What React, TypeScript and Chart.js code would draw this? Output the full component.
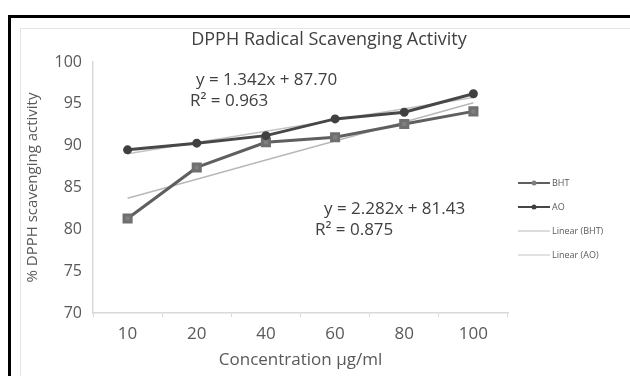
import React, { useEffect, useRef } from "react";
import { Chart, registerables } from "chart.js";

Chart.register(...registerables);

const categories = ["10", "20", "40", "60", "80", "100"];
const bhtValues = [81.3, 87.4, 90.4, 91.0, 92.6, 94.1];
const aoValues = [89.5, 90.3, 91.2, 93.2, 94.0, 96.2];
// trendline values read from the printed equations
const linearBht = [83.71, 85.99, 88.28, 90.56, 92.84, 95.12];
const linearAo = [89.04, 90.38, 91.73, 93.07, 94.41, 95.75];
const yTicks = [70, 75, 80, 85, 90, 95, 100];

const FONT = "'Open Sans', 'Liberation Sans', sans-serif";

const framePlugin = {
  id: "frame",
  beforeDraw(chart: any) {
    const { ctx, width, height } = chart;
    ctx.save();
    ctx.fillStyle = "#ffffff";
    ctx.fillRect(0, 0, width, height);
    ctx.strokeStyle = "#e4e4e4";
    ctx.lineWidth = 1;
    ctx.strokeRect(20.5, 28.5, width, height);
    ctx.strokeStyle = "#000000";
    ctx.lineWidth = 3;
    ctx.strokeRect(9.5, 16.5, width + 20, height + 20);
    ctx.restore();
  },
  afterDraw(chart: any) {
    const { ctx } = chart;
    ctx.save();
    ctx.fillStyle = "#404040";
    ctx.textBaseline = "middle";
    ctx.textAlign = "center";
    ctx.font = `18px ${FONT}`;
    ctx.fillText("DPPH Radical Scavenging Activity", 329, 40);

    ctx.textAlign = "left";
    ctx.font = `17px ${FONT}`;
    ctx.fillText("y = 1.342x + 87.70", 196, 80);
    ctx.fillText("R² = 0.963", 190, 101);
    ctx.fillText("y = 2.282x + 81.43", 324, 209);
    ctx.fillText("R² = 0.875", 315, 230);

    // legend
    const items = chart.data.datasets;
    const startY = 183;
    const gap = 24;
    ctx.font = `9px ${FONT}`;
    items.forEach((ds: any, i: number) => {
      const y = startY + i * gap;
      ctx.strokeStyle = ds.borderColor;
      ctx.lineWidth = Math.max(1, ds.borderWidth - 1);
      ctx.beginPath();
      ctx.moveTo(518, y);
      ctx.lineTo(550, y);
      ctx.stroke();
      if (ds.pointRadius > 0) {
        ctx.fillStyle = ds.pointBackgroundColor;
        ctx.beginPath();
        ctx.arc(534, y, 2.5, 0, Math.PI * 2);
        ctx.fill();
      }
      ctx.fillStyle = "#595959";
      ctx.fillText(ds.label, 552, y);
    });
    ctx.restore();
  },
};

export default function App() {
  const ref = useRef<HTMLCanvasElement>(null);
  useEffect(() => {
    if (!ref.current) return;
    const chart = new Chart(ref.current, {
      type: "line",
      data: {
        labels: categories,
        datasets: [
          {
            label: "BHT",
            data: bhtValues,
            borderColor: "#5f5f5f",
            backgroundColor: "#7f7f7f",
            pointBackgroundColor: "#7f7f7f",
            pointBorderColor: "#6f6f6f",
            pointStyle: "rect",
            pointRadius: 5,
            borderWidth: 3,
            tension: 0,
            order: 1,
          },
          {
            label: "AO",
            data: aoValues,
            borderColor: "#474747",
            backgroundColor: "#404040",
            pointBackgroundColor: "#404040",
            pointBorderColor: "#404040",
            pointStyle: "circle",
            pointRadius: 3,
            borderWidth: 3,
            tension: 0,
            order: 0,
          },
          {
            label: "Linear (BHT)",
            data: linearBht,
            borderColor: "#b8b8b8",
            backgroundColor: "#b8b8b8",
            pointRadius: 0,
            borderWidth: 1.5,
            order: 2,
          },
          {
            label: "Linear (AO)",
            data: linearAo,
            borderColor: "#c4c4c4",
            backgroundColor: "#c4c4c4",
            pointRadius: 0,
            borderWidth: 1.5,
            order: 2,
          },
        ],
      },
      options: {
        animation: false,
        responsive: false,
        maintainAspectRatio: false,
        layout: { padding: { top: 62, right: 122, bottom: 0, left: 0 } },
        plugins: {
          legend: { display: false },
          title: { display: false },
          tooltip: { enabled: false },
        },
        scales: {
          x: {
            offset: true,
            grid: {
              display: true,
              offset: true,
              drawOnChartArea: false,
              drawTicks: true,
              tickLength: 4,
              color: "#d9d9d9",
            },
            border: { display: true, color: "#d9d9d9", width: 1.5 },
            ticks: {
              color: "#595959",
              font: { family: FONT, size: 17 },
              padding: 7,
              maxRotation: 0,
            },
            title: {
              display: true,
              text: "Concentration µg/ml",
              color: "#595959",
              font: { family: FONT, size: 17 },
              padding: { top: 0, bottom: 6 },
            },
            afterFit(scale: any) {
              scale.height = 63;
            },
          },
          y: {
            min: 70,
            max: 100,
            afterBuildTicks(scale: any) {
              scale.ticks = yTicks.map((v) => ({ value: v }));
            },
            grid: { display: false, drawTicks: false },
            border: { display: true, color: "#d9d9d9", width: 1.5 },
            ticks: {
              color: "#595959",
              font: { family: FONT, size: 16 },
              padding: 11,
            },
            title: {
              display: true,
              text: "% DPPH scavenging activity",
              color: "#595959",
              font: { family: FONT, size: 15 },
              padding: { top: 24, bottom: 0 },
            },
            afterFit(scale: any) {
              scale.width = 93;
            },
          },
        },
      },
      plugins: [framePlugin],
    });
    return () => chart.destroy();
  }, []);
  return (
    <div style={{ position: "fixed", left: 0, top: 0, width: 630, height: 376 }}>
      <canvas ref={ref} width={630} height={376} style={{ display: "block" }} />
    </div>
  );
}
